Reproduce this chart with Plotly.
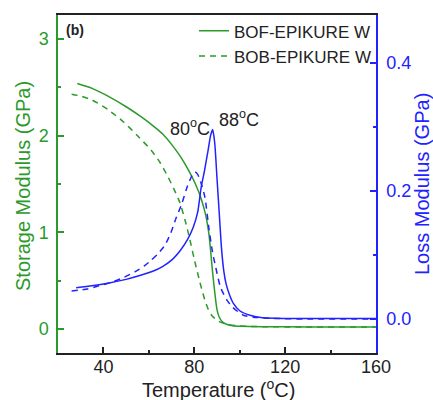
import plotly.graph_objects as go

# ---- data ----
bof_storage_T = [28.5, 35, 42, 50, 57, 62, 66, 70, 74, 77.5, 80.5, 83, 85, 86.5, 88, 89, 90, 91, 92.5, 94.5, 97, 101, 110, 130, 160]
bof_storage_E = [2.54, 2.49, 2.41, 2.30, 2.19, 2.10, 2.02, 1.91, 1.78, 1.64, 1.50, 1.35, 1.18, 0.97, 0.60, 0.38, 0.20, 0.12, 0.07, 0.045, 0.032, 0.026, 0.022, 0.02, 0.02]

bob_storage_T = [26, 30, 35, 42, 49, 55, 61, 65, 68.5, 71, 73.6, 76, 78, 80, 82.5, 84.5, 86.2, 88, 91, 95, 100, 110, 130, 160]
bob_storage_E = [2.43, 2.41, 2.37, 2.27, 2.14, 2.00, 1.85, 1.72, 1.57, 1.45, 1.31, 1.12, 0.93, 0.72, 0.48, 0.31, 0.20, 0.13, 0.075, 0.045, 0.03, 0.022, 0.02, 0.02]

bof_loss_T = [28, 35, 42, 50, 56, 62, 66, 70, 74, 77, 79.5, 81.5, 83, 84.5, 86, 87.2, 88.1, 89, 90, 91, 92, 93, 94, 95.5, 97.2, 100, 104.5, 110, 120, 140, 160]
bof_loss_E = [0.049, 0.052, 0.056, 0.062, 0.068, 0.075, 0.082, 0.092, 0.108, 0.124, 0.143, 0.167, 0.205, 0.232, 0.262, 0.287, 0.296, 0.275, 0.22, 0.165, 0.11, 0.075, 0.055, 0.038, 0.0245, 0.013, 0.006, 0.002, 0.001, 0.001, 0.001]

bob_loss_T = [26, 29, 33, 38, 44, 49, 54, 58, 61, 64, 67, 69.5, 72, 74.5, 77, 79, 80.3, 81.5, 83, 84.7, 86.5, 88, 89.5, 91.5, 94.3, 97, 101.6, 106, 115, 130, 160]
bob_loss_E = [0.044, 0.045, 0.047, 0.052, 0.058, 0.065, 0.074, 0.083, 0.092, 0.102, 0.115, 0.133, 0.158, 0.18, 0.208, 0.224, 0.230, 0.226, 0.212, 0.19, 0.14, 0.105, 0.08, 0.05, 0.03, 0.018, 0.006, 0.003, 0.001, 0.0, 0.0]

series_names = ["BOF-EPIKURE W", "BOB-EPIKURE W"]
x_ticks = [40, 80, 120, 160]
peak_labels = ["80<sup>o</sup>C", "88<sup>o</sup>C"]

GREEN = "#2b9a2b"
BLUE = "#2222ff"
DARK = "#222"
FONT = "Arial, Liberation Sans, sans-serif"

fig = go.Figure()

fig.add_trace(go.Scatter(x=bof_storage_T, y=bof_storage_E, mode="lines", name=series_names[0],
                         line=dict(color=GREEN, width=1.5, shape="spline", smoothing=0.6)))
fig.add_trace(go.Scatter(x=bob_storage_T, y=bob_storage_E, mode="lines", name=series_names[1],
                         line=dict(color=GREEN, width=1.5, dash="6px,5px", shape="spline", smoothing=0.6)))
fig.add_trace(go.Scatter(x=bof_loss_T, y=bof_loss_E, mode="lines", showlegend=False, yaxis="y2",
                         line=dict(color=BLUE, width=1.5, shape="spline", smoothing=0.6)))
fig.add_trace(go.Scatter(x=bob_loss_T, y=bob_loss_E, mode="lines", showlegend=False, yaxis="y2",
                         line=dict(color=BLUE, width=1.5, dash="6px,5px", shape="spline", smoothing=0.6)))

fig.update_layout(
    width=433, height=400,
    margin=dict(l=58, r=57, t=15, b=47, autoexpand=False),
    paper_bgcolor="white", plot_bgcolor="white",
    font=dict(family=FONT, size=18, color=DARK),
    xaxis=dict(
        range=[20, 160], tickvals=x_ticks, ticks="inside", ticklen=6, tickwidth=1.5, tickcolor=DARK,
        minor=dict(tickvals=[60, 100, 140], ticks="inside", ticklen=3, tickwidth=1.5, tickcolor=DARK),
        showline=True, linecolor=DARK, linewidth=1.5, mirror=True,
        showgrid=False, zeroline=False, automargin=False, ticklabelstandoff=-3,
        tickfont=dict(size=18, color=DARK),
    ),
    yaxis=dict(
        range=[-0.25, 3.25], tickvals=[0, 1, 2, 3], ticks="inside", ticklen=6, tickwidth=1.5, tickcolor=GREEN,
        minor=dict(tickvals=[0.5, 1.5, 2.5], ticks="inside", ticklen=3, tickwidth=1.5, tickcolor=GREEN),
        showline=True, linecolor=GREEN, linewidth=1.5,
        showgrid=False, zeroline=False, automargin=False, ticklabelstandoff=4,
        tickfont=dict(size=18, color=GREEN),
    ),
    yaxis2=dict(
        range=[-0.053, 0.475], tickvals=[0.0, 0.2, 0.4], tickformat=".1f", overlaying="y", side="right",
        ticks="inside", ticklen=6, tickwidth=1.5, tickcolor=BLUE,
        minor=dict(tickvals=[0.1, 0.3], ticks="inside", ticklen=3, tickwidth=1.5, tickcolor=BLUE),
        showline=True, linecolor=BLUE, linewidth=1.5,
        showgrid=False, zeroline=False, automargin=False, ticklabelstandoff=5,
        tickfont=dict(size=18, color=BLUE),
    ),
    legend=dict(x=1, xanchor="right", y=1.005, yanchor="top", bgcolor="rgba(0,0,0,0)",
                font=dict(size=17, color=DARK), tracegroupgap=0, itemwidth=30),
    annotations=[
        dict(text="Temperature (<sup>o</sup>C)", xref="paper", yref="paper", x=(218 - 58) / 318, y=(353 - 388) / 338,
             xanchor="center", yanchor="middle", showarrow=False, font=dict(size=20, color=DARK)),
        dict(text="Storage Modulus (GPa)", xref="paper", yref="paper", x=(23 - 58) / 318, y=(353 - 186) / 338,
             xanchor="center", yanchor="middle", textangle=-90, showarrow=False, font=dict(size=20, color=GREEN)),
        dict(text="Loss Modulus (GPa)", xref="paper", yref="paper", x=(422 - 58) / 318, y=(353 - 184) / 338,
             xanchor="center", yanchor="middle", textangle=-90, showarrow=False, font=dict(size=20, color=BLUE)),
        dict(text="<b>(b)</b>", xref="paper", yref="paper", x=0.02, y=0.985, xanchor="left", yanchor="top",
             showarrow=False, font=dict(size=14, color=DARK)),
        dict(text=peak_labels[0], x=78.1, y=2.09, xref="x", yref="y", showarrow=False,
             font=dict(size=18, color=DARK)),
        dict(text=peak_labels[1], x=99.9, y=2.18, xref="x", yref="y", showarrow=False,
             font=dict(size=18, color=DARK)),
    ],
)

fig.write_html("out.html", config={"displayModeBar": False},
               post_script="document.body.style.margin='0';document.body.style.overflow='hidden';")
